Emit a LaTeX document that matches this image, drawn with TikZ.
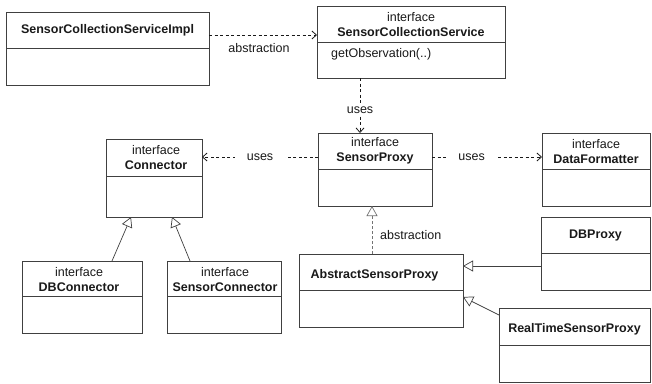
\documentclass[tikz,border=0pt]{standalone}
\usepackage{fontspec}
\setmainfont{Liberation Sans}
\usetikzlibrary{arrows.meta}
\begin{document}
\begin{tikzpicture}[x=1pt,y=-1pt,
  box/.style={draw=black!75, line width=0.8pt, anchor=north west, inner sep=0pt, outer sep=0pt},
  divl/.style={draw=black!75, line width=0.8pt},
  txt/.style={font=\fontsize{12.5}{15}\selectfont, inner sep=1pt, align=center, text=black!90},
  dep/.style={draw=black!90, line width=0.8pt, dash pattern=on 3pt off 2.5pt, -{Straight Barb[length=4.5pt,width=8pt]}},
  gen/.style={draw=black!75, line width=0.7pt, -{Triangle[open,length=10pt,width=11pt,fill=white]}},
  lblw/.style={txt, fill=white, inner xsep=12pt}
]
\useasboundingbox (0,0) rectangle (652,383);

% classes
\node[box, minimum width=203pt, minimum height=73pt] (impl) at (6,12) {};
\draw[divl] (impl.west |- 0,48) -- (impl.east |- 0,48);
\node[txt] (implT) at (107.5,30) {\textbf{SensorCollectionServiceImpl}};

\node[box, minimum width=188pt, minimum height=72pt] (scs) at (317,6) {};
\draw[divl] (scs.west |- 0,42) -- (scs.east |- 0,42);
\node[txt] (scsT) at (411,25) {interface\\\textbf{SensorCollectionService}};
\node[txt, anchor=west] (scsOp) at (330,54) {getObservation(..)};

\node[box, minimum width=114pt, minimum height=73pt] (sp) at (318,133) {};
\draw[divl] (sp.west |- 0,169) -- (sp.east |- 0,169);
\node[txt] (spT) at (375,151) {interface\\\textbf{SensorProxy}};

\node[box, minimum width=96pt, minimum height=78pt] (con) at (106,139) {};
\draw[divl] (con.west |- 0,176) -- (con.east |- 0,176);
\node[txt] (conT) at (156,158) {interface\\\textbf{Connector}};

\node[box, minimum width=108pt, minimum height=73pt] (df) at (542,133) {};
\draw[divl] (df.west |- 0,169) -- (df.east |- 0,169);
\node[txt] (dfT) at (596,152) {interface\\\textbf{DataFormatter}};

\node[box, minimum width=109pt, minimum height=73pt] (dbp) at (541,217) {};
\draw[divl] (dbp.west |- 0,253) -- (dbp.east |- 0,253);
\node[txt] (dbpT) at (595.5,235) {\textbf{DBProxy}};

\node[box, minimum width=164pt, minimum height=73pt] (asp) at (299,254) {};
\draw[divl] (asp.west |- 0,290) -- (asp.east |- 0,290);
\node[txt] (aspT) at (374.5,275) {\textbf{AbstractSensorProxy}};

\node[box, minimum width=151pt, minimum height=74pt] (rtsp) at (499,308) {};
\draw[divl] (rtsp.west |- 0,345) -- (rtsp.east |- 0,345);
\node[txt] (rtspT) at (574.5,329) {\textbf{RealTimeSensorProxy}};

\node[box, minimum width=120pt, minimum height=72pt] (dbc) at (22,261) {};
\draw[divl] (dbc.west |- 0,296) -- (dbc.east |- 0,296);
\node[txt] (dbcT) at (79,280) {interface\\\textbf{DBConnector}};

\node[box, minimum width=114pt, minimum height=72pt] (sc) at (167,261) {};
\draw[divl] (sc.west |- 0,296) -- (sc.east |- 0,296);
\node[txt] (scT) at (225,280) {interface\\\textbf{SensorConnector}};

% connectors
\draw[dep] (impl.east |- 0,35) -- (scs.west |- 0,35);
\node[txt] (absL1) at (259,48) {abstraction};

\draw[dep] (scs.south -| 360,0) -- (sp.north -| 360,0)
  node[pos=0.58, txt, fill=white, inner ysep=3pt] (usesV) {uses};

\draw[dep] (sp.west |- 0,157) -- (con.east |- 0,157)
  node[midway, lblw] (usesL) {uses};

\draw[dep] (sp.east |- 0,157) -- (df.west |- 0,157)
  node[pos=0.36, lblw] (usesR) {uses};

\draw[gen, draw=black!55, dash pattern=on 3pt off 2pt] (asp.north -| 372,0) -- (sp.south -| 372,0);
\node[txt, anchor=west] (absL2) at (379,235) {abstraction};

\draw[gen] (dbp.west |- 0,266) -- (asp.east |- 0,266);
\draw[gen] (rtsp.west |- 0,315) -- (asp.east |- 0,297);
\draw[gen] (dbc.north -| 112,0) -- (con.south -| 131,0);
\draw[gen] (sc.north -| 190,0) -- (con.south -| 172,0);
\end{tikzpicture}
\end{document}
